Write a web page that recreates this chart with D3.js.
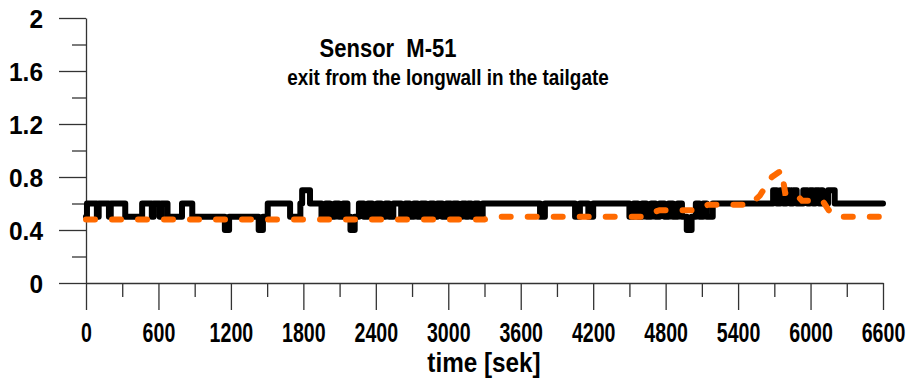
<!DOCTYPE html>
<html>
<head>
<meta charset="utf-8">
<script src="https://cdn.jsdelivr.net/npm/d3@7"></script>
<style>
  body { margin: 0; background: #fff; }
  svg { display: block; }
  text { font-family: "Liberation Sans", Arial, sans-serif; font-weight: bold; fill: #000; }
</style>
</head>
<body>
<div class="container"></div>
<script>
// axis ticks
var yMajor = [0, 0.4, 0.8, 1.2, 1.6, 2];
var yMinor = [0.2, 0.6, 1.0, 1.4, 1.8];
var xMajor = [0, 600, 1200, 1800, 2400, 3000, 3600, 4200, 4800, 5400, 6000, 6600];
var xMinor = [300, 900, 1500, 2100, 2700, 3300, 3900, 4500, 5100, 5700, 6300];

// sensor M-51 readings, [time s, value] (step after)
var sensorSteps = [
    [0, 0.5], [8, 0.6], [90, 0.5], [105, 0.6], [190, 0.5], [205, 0.6], [325, 0.5],
    [465, 0.6], [545, 0.5], [560, 0.6], [610, 0.5], [625, 0.6], [675, 0.5],
    [795, 0.6], [880, 0.5], [1150, 0.4], [1185, 0.5], [1430, 0.4], [1465, 0.5],
    [1505, 0.6], [1690, 0.5], [1775, 0.6], [1790, 0.7], [1855, 0.6],
    [1950, 0.5], [1985, 0.6], [2020, 0.5], [2060, 0.6], [2095, 0.5], [2130, 0.6],
    [2165, 0.5], [2190, 0.4], [2225, 0.5], [2260, 0.6], [2300, 0.5], [2335, 0.6],
    [2370, 0.5], [2410, 0.6], [2445, 0.5], [2480, 0.6], [2510, 0.5], [2545, 0.6],
    [2610, 0.5], [2645, 0.6], [2680, 0.5], [2715, 0.6], [2745, 0.5], [2775, 0.6],
    [2815, 0.5], [2850, 0.6], [2880, 0.5], [2910, 0.6], [2950, 0.5], [2985, 0.6],
    [3020, 0.5], [3045, 0.6], [3080, 0.5], [3115, 0.6], [3145, 0.5], [3165, 0.6],
    [3190, 0.5], [3220, 0.6], [3250, 0.5], [3285, 0.6],
    [3760, 0.5], [3800, 0.6], [4050, 0.5], [4090, 0.6], [4160, 0.5], [4200, 0.6],
    [4500, 0.5], [4535, 0.6], [4570, 0.5], [4605, 0.6], [4640, 0.5], [4680, 0.6],
    [4715, 0.5], [4750, 0.6], [4790, 0.5], [4825, 0.6], [4860, 0.5], [4900, 0.6],
    [4935, 0.5], [4975, 0.4], [5015, 0.5], [5050, 0.6], [5080, 0.5], [5110, 0.6],
    [5140, 0.5], [5190, 0.6],
    [5690, 0.7], [5720, 0.6], [5750, 0.7], [5775, 0.6], [5800, 0.7], [5830, 0.6],
    [5855, 0.7], [5885, 0.6], [5940, 0.7], [5975, 0.6], [5995, 0.7], [6020, 0.6],
    [6040, 0.7], [6070, 0.6], [6085, 0.7], [6100, 0.6], [6145, 0.7], [6200, 0.6],
    [6600, 0.6]
];

// orange dashed trend, [time s, value]
var trendPoints = [
    [0, 0.48], [3300, 0.48], [3400, 0.5], [4600, 0.5], [4750, 0.55], [5050, 0.55],
    [5150, 0.59], [5500, 0.59], [5580, 0.66], [5680, 0.8], [5760, 0.85], [5790, 0.68],
    [5870, 0.68], [5930, 0.62], [6100, 0.62], [6150, 0.55], [6230, 0.5], [6600, 0.5]
];

var titleLines = ["Sensor  M-51", "exit from the longwall in the tailgate"];
var xTitle = "time [sek]";

var width = 911, height = 385;
var svg = d3.select('.container').append('svg')
    .attr('width', width)
    .attr('height', height);

var x = d3.scaleLinear().domain([0, 6600]).range([86, 883]);
var y = d3.scaleLinear().domain([0, 2]).range([283, 18]);

// y axis
var yAxis = svg.append('g').attr('transform', 'translate(86,0)')
    .call(d3.axisLeft(y).tickValues(yMajor).tickSize(27).tickSizeOuter(0).tickPadding(0)
        .tickFormat(d => d3.format('')(+d.toFixed(1))));
svg.append('g').attr('transform', 'translate(86,0)')
    .call(d3.axisLeft(y).tickValues(yMinor).tickSize(14).tickSizeOuter(0).tickFormat(''))
    .select('.domain').remove();
// labels end at x = 43
yAxis.selectAll('text')
    .attr('x', 0).attr('dy', '0.36em')
    .style('font-size', '26px')
    .attr('transform', 'translate(-43,0) scale(0.94,1)');

// x axis
var xAxis = svg.append('g').attr('transform', 'translate(0,283)')
    .call(d3.axisBottom(x).tickValues(xMajor).tickSize(27).tickSizeOuter(0).tickPadding(0)
        .tickFormat(d3.format('d')));
svg.append('g').attr('transform', 'translate(0,283)')
    .call(d3.axisBottom(x).tickValues(xMinor).tickSize(14).tickSizeOuter(0).tickFormat(''))
    .select('.domain').remove();
xAxis.selectAll('text')
    .attr('y', 59).attr('dy', 0)
    .style('font-size', '28px')
    .attr('transform', 'scale(0.7,1)');

svg.selectAll('.domain, .tick line').attr('stroke', '#333').attr('stroke-width', 1.3);

svg.append('text')
    .attr('text-anchor', 'middle')
    .attr('transform', 'translate(484,372) scale(0.9,1)')
    .style('font-size', '27px')
    .text(xTitle);

// title
var titleSize = [25, 22], titleScale = [0.88, 0.86];
svg.append('g').selectAll('text').data(titleLines).enter().append('text')
    .attr('transform', (d, i) => i === 0
        ? 'translate(388,57) scale(' + titleScale[0] + ',1)'
        : 'translate(448,85) scale(' + titleScale[1] + ',1)')
    .attr('text-anchor', 'middle')
    .style('font-size', (d, i) => titleSize[i] + 'px')
    .style('white-space', 'pre')
    .text(d => d);

// series
var stepLine = d3.line()
    .x(d => x(d[0]))
    .y(d => y(d[1]))
    .curve(d3.curveStepAfter);

svg.append('path')
    .datum(sensorSteps)
    .attr('d', stepLine)
    .attr('fill', 'none')
    .attr('stroke', '#000')
    .attr('stroke-width', 6)
    .attr('stroke-linejoin', 'round')
    .attr('stroke-linecap', 'round');

var trendLine = d3.line()
    .x(d => x(d[0]))
    .y(d => y(d[1]));

svg.append('path')
    .datum(trendPoints)
    .attr('d', trendLine)
    .attr('fill', 'none')
    .attr('stroke', '#ff6a00')
    .attr('stroke-width', 6)
    .attr('stroke-dasharray', '9 17')
    .attr('stroke-linecap', 'round');
</script>
</body>
</html>
